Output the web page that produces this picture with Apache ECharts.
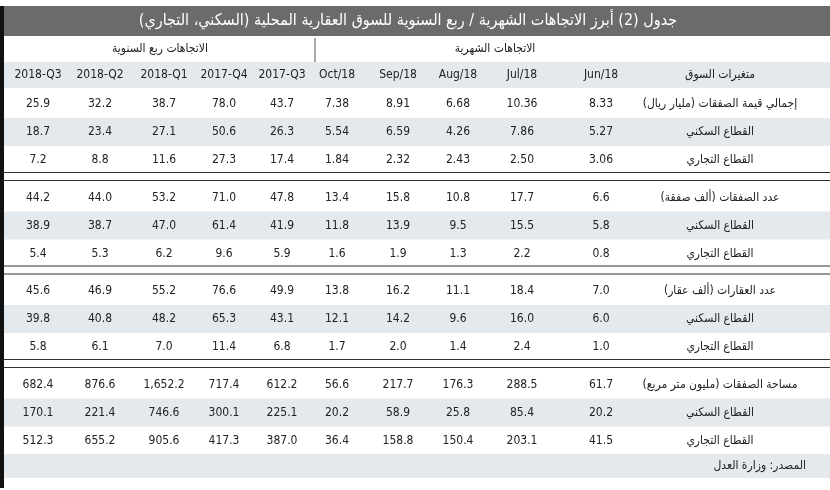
<!DOCTYPE html>
<html><head><meta charset="utf-8">
<script src="https://cdn.jsdelivr.net/npm/echarts@6/dist/echarts.min.js"></script>
<style>html,body{margin:0;background:#fff}#main{width:830px;height:490px}</style>
</head><body><div id="main"></div>
<script>
var title = 'جدول (2) أبرز الاتجاهات الشهرية / ربع السنوية للسوق العقارية المحلية (السكني، التجاري)';
var groupMonthly = 'الاتجاهات الشهرية';
var groupQuarterly = 'الاتجاهات ربع السنوية';
var labelHeader = 'متغيرات السوق';
var source = 'المصدر: وزارة العدل';
// columns right to left
var columns = ['Jun/18','Jul/18','Aug/18','Sep/18','Oct/18','2017-Q3','2017-Q4','2018-Q1','2018-Q2','2018-Q3'];
var rowLabels = [
  'إجمالي قيمة الصفقات (مليار ريال)','القطاع السكني','القطاع التجاري',
  'عدد الصفقات (ألف صفقة)','القطاع السكني','القطاع التجاري',
  'عدد العقارات (ألف عقار)','القطاع السكني','القطاع التجاري',
  'مساحة الصفقات (مليون متر مربع)','القطاع السكني','القطاع التجاري'
];
var values = [
  ['8.33','10.36','6.68','8.91','7.38','43.7','78.0','38.7','32.2','25.9'],
  ['5.27','7.86','4.26','6.59','5.54','26.3','50.6','27.1','23.4','18.7'],
  ['3.06','2.50','2.43','2.32','1.84','17.4','27.3','11.6','8.8','7.2'],
  ['6.6','17.7','10.8','15.8','13.4','47.8','71.0','53.2','44.0','44.2'],
  ['5.8','15.5','9.5','13.9','11.8','41.9','61.4','47.0','38.7','38.9'],
  ['0.8','2.2','1.3','1.9','1.6','5.9','9.6','6.2','5.3','5.4'],
  ['7.0','18.4','11.1','16.2','13.8','49.9','76.6','55.2','46.9','45.6'],
  ['6.0','16.0','9.6','14.2','12.1','43.1','65.3','48.2','40.8','39.8'],
  ['1.0','2.4','1.4','2.0','1.7','6.8','11.4','7.0','6.1','5.8'],
  ['61.7','288.5','176.3','217.7','56.6','612.2','717.4','1,652.2','876.6','682.4'],
  ['20.2','85.4','25.8','58.9','20.2','225.1','300.1','746.6','221.4','170.1'],
  ['41.5','203.1','150.4','158.8','36.4','387.0','417.3','905.6','655.2','512.3']
];

var FONT = '"Liberation Sans Narrow", "DejaVu Sans Condensed", "Noto Sans", sans-serif';
var colX = [601, 522, 458, 398, 337, 282, 224, 164, 100, 38];
var labelX = 720;
var W = 830, shade = '#e4e9ed';
var g = [];
function rect(x, y, w, h, fill) { g.push({type:'rect', shape:{x:x,y:y,width:w,height:h}, style:{fill:fill}, silent:true}); }
function line(x1, y1, x2, y2, c, lw) { g.push({type:'line', shape:{x1:x1,y1:y1,x2:x2,y2:y2}, style:{stroke:c, lineWidth:lw||1}, silent:true}); }
function text(s, x, y, opt) {
  opt = opt || {};
  g.push({type:'text', x:x, y:y, style:{text:s, fill:opt.color||'#222', font:(opt.weight||'normal')+' '+(opt.size||12)+'px '+FONT, align:opt.align||'center', verticalAlign:'middle'}, silent:true});
}

// title bar
rect(0, 6, W, 30, '#6b6b6b');
rect(0, 6, 4, 482, '#111');
text(title, 408, 21, {color:'#fff', size:16});
// header rows
text(groupMonthly, 495, 49, {size:12});
text(groupQuarterly, 160, 49, {size:12});
line(315, 38, 315, 62, '#555', 1);
rect(4, 62, W-4, 26, shade);
text(labelHeader, 720, 75, {size:12});
columns.forEach(function (c, i) { text(c, colX[i], 75, {size:12}); });

// body
var rowH = 28;
values.forEach(function (row, r) {
  var grp = Math.floor(r / 3), k = r % 3;
  var top = 89 + grp * 93.5 + k * rowH;
  if (k === 1) rect(4, top + 1, W-4, rowH, shade);
  if (k === 0 && grp > 0) {
    line(4, top - 10, W, top - 10, '#333', 1.2);
    line(4, top - 2, W, top - 2, '#333', 1.2);
  }
  var cy = top + rowH / 2 + 1;
  text(rowLabels[r], labelX, cy, {size:12});
  row.forEach(function (v, i) { text(v, colX[i], cy, {size:12}); });
});
rect(4, 454, W-4, 24, shade);
text(source, 806, 466, {size:12, align:'right'});

var chart = echarts.init(document.getElementById('main'));
chart.setOption({ animation:false, graphic:g });
</script></body></html>
